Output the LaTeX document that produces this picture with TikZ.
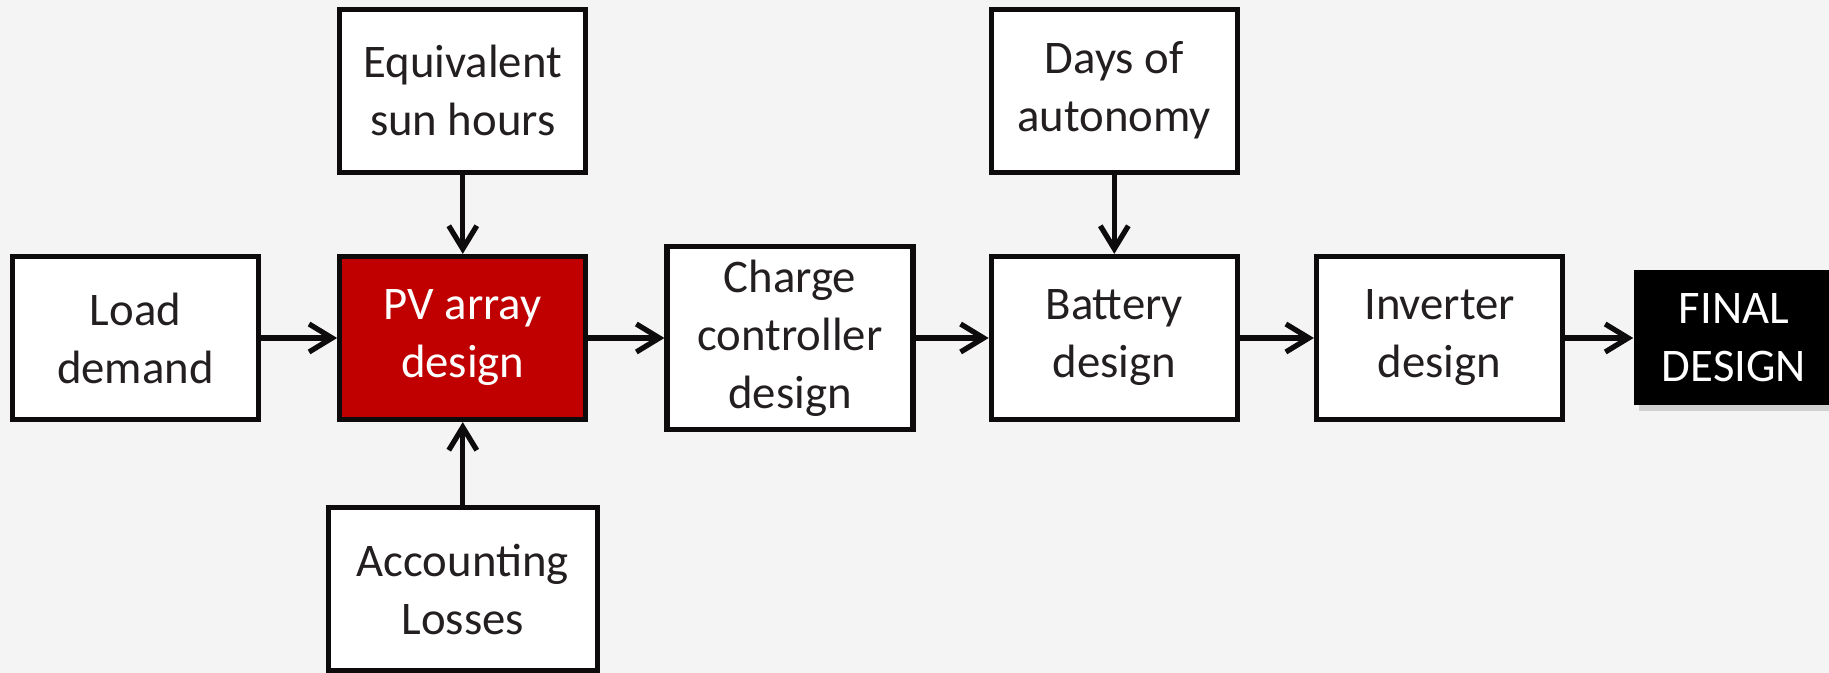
\documentclass[tikz,border=0pt]{standalone}
\usepackage{fontspec}
\setmainfont{Carlito}
\usepackage{tikz}
\usetikzlibrary{arrows.meta,positioning,shadows}
\definecolor{Canvas}{HTML}{F4F4F4}
\definecolor{Ink}{HTML}{0D0B0B}
\definecolor{Text}{HTML}{231F20}
\definecolor{PVRed}{HTML}{C00000}
\tikzset{block/.style={draw=Ink,fill=white,line width=1.5pt,minimum width=2.46cm,minimum height=1.63cm,align=center,text=Text,inner sep=2pt},core/.style={block,fill=PVRed,text=white},result/.style={fill=black,text=white,minimum width=2cm,minimum height=1.35cm,align=center,drop shadow={opacity=.3,shadow xshift=.5mm,shadow yshift=-.6mm}},flow/.style={-{Straight Barb[length=2.3mm,width=2.8mm]},line width=1.5pt,draw=Ink}}

\begin{document}
\begin{tikzpicture}[every node/.style={font=\fontsize{13.3}{16.5}\selectfont}]
  \path[use as bounding box,fill=Canvas](0,0)rectangle(18.29,-6.73);
  \node[block](load)at(1.355,-3.38){Load\\demand};
  \node[core,right=.76cm of load](pv){PV array\\design};
  \node[block,above=.79cm of pv](sun){Equivalent\\sun hours};
  \node[block,below=.83cm of pv,minimum width=2.69cm](losses){Accounting\\Losses};
  \node[block,right=.76cm of pv,minimum height=1.83cm](charge){Charge\\controller\\design};
  \node[block,right=.73cm of charge](battery){Battery\\design};
  \node[block,above=.79cm of battery](days){Days of\\autonomy};
  \node[block,right=.74cm of battery](inverter){Inverter\\design};
  \node[result,right=.68cm of inverter](final){FINAL\\DESIGN};
  \draw[flow](load)--(pv);\draw[flow](sun)--(pv);\draw[flow](losses)--(pv);
  \draw[flow](pv)--(charge);\draw[flow](charge)--(battery);
  \draw[flow](days)--(battery);
  \draw[flow](battery)--(inverter);\draw[flow](inverter)--(final);
\end{tikzpicture}
\end{document}
